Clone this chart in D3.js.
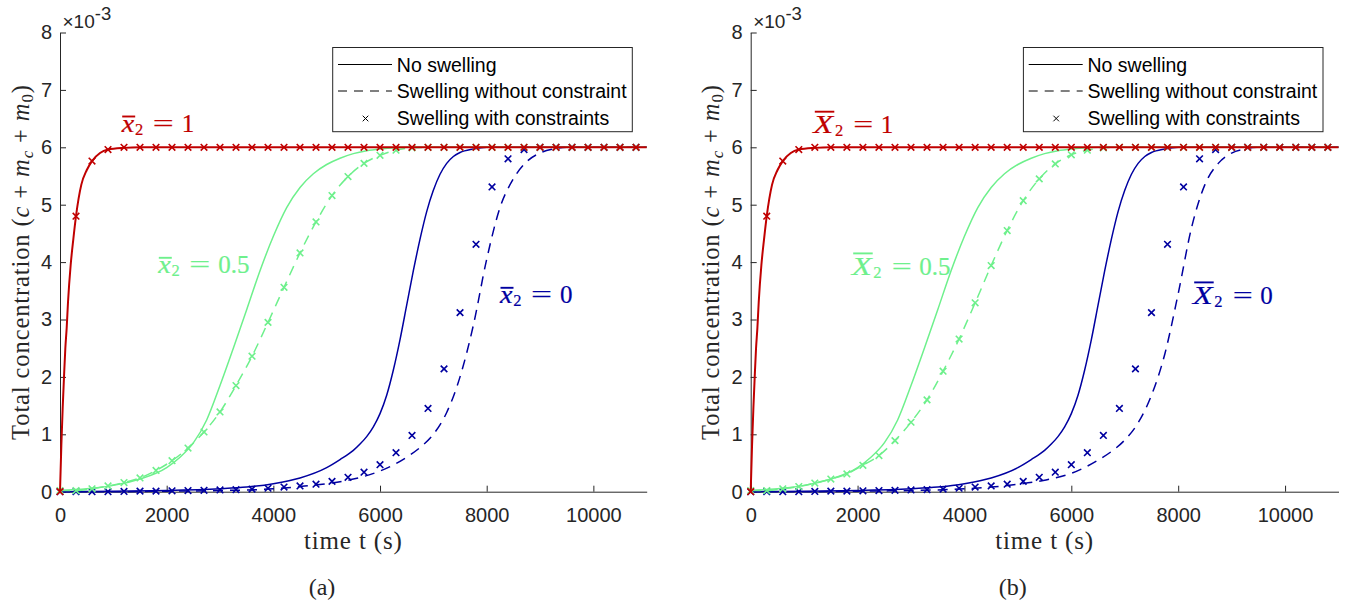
<!DOCTYPE html>
<html><head><meta charset="utf-8">
<script src="https://cdn.jsdelivr.net/npm/d3@7"></script>
<style>body{margin:0;background:#fff} svg{display:block}</style>
</head><body>
<svg id="c" width="1354" height="606"></svg>
<script>
// ---------------- data ----------------
const xTicks = [0, 2000, 4000, 6000, 8000, 10000];
const yTicks = [0, 1, 2, 3, 4, 5, 6, 7, 8];
const markT = [0,300,600,900,1200,1500,1800,2100,2400,2700,3000,3300,3600,3900,4200,4500,4800,5100,5400,5700,6000,6300,6600,6900,7200,7500,7800,8100,8400,8700,9000,9300,9600,9900,10200,10500,10800];

// x2 = 1 (red)
const redT = [0,25,50,75,100,125,150,200,250,300,400,500,600,750,900,1200,1500,11000];
const redC = [0,0.8,1.45,2.0,2.5,2.85,3.3,3.95,4.4,4.8,5.35,5.6,5.76,5.9,5.96,5.99,6.0,6.0];
const redMark = [0,4.8,5.76,5.96,6,6,6,6,6,6,6,6,6,6,6,6,6,6,6,6,6,6,6,6,6,6,6,6,6,6,6,6,6,6,6,6,6];

// x2 = 0.5 (green)
const greenSolidT = [0,500,1000,1500,2000,2250,2500,2750,3000,3250,3500,3750,4000,4250,4500,4750,5000,5250,5500,5750,6000,6500,11000];
const greenSolidC = [0.02,0.05,0.11,0.22,0.42,0.6,0.85,1.25,1.85,2.5,3.17,3.85,4.45,4.95,5.3,5.54,5.7,5.81,5.89,5.94,5.97,6.0,6.0];
const greenMarkA = [0.02,0.02,0.05,0.10,0.16,0.24,0.37,0.54,0.76,1.04,1.39,1.85,2.36,2.95,3.56,4.16,4.70,5.16,5.49,5.72,5.86,5.95,5.99,6,6,6,6,6,6,6,6,6,6,6,6,6,6];
const greenMarkB = [0.02,0.02,0.05,0.09,0.15,0.22,0.31,0.46,0.63,0.89,1.21,1.60,2.10,2.66,3.29,3.94,4.55,5.07,5.45,5.71,5.87,5.95,5.99,6,6,6,6,6,6,6,6,6,6,6,6,6,6];

// x2 = 0 (blue)
const blueSolidT = [0,1000,2000,3000,3500,4000,4500,5000,5250,5500,5625,5750,5875,6000,6125,6250,6375,6500,6625,6750,6875,7000,7125,7250,7375,7500,7750,8000,11000];
const blueSolidC = [0,0.01,0.02,0.05,0.08,0.14,0.24,0.42,0.56,0.72,0.83,0.96,1.13,1.36,1.68,2.12,2.65,3.25,3.85,4.4,4.88,5.25,5.53,5.72,5.84,5.91,5.97,6.0,6.0];
const blueDashT = [0,1000,2000,3000,4000,4500,5000,5500,6000,6500,6750,7000,7250,7500,7750,8000,8250,8500,8750,9000,9250,9500,11000];
const blueDashA = [0,0,0.01,0.02,0.05,0.09,0.14,0.22,0.36,0.6,0.77,1.0,1.38,2.0,2.9,4.05,4.95,5.45,5.75,5.9,5.97,6.0,6.0];
const blueDashB = [0,0,0.01,0.02,0.05,0.08,0.13,0.2,0.32,0.55,0.7,0.9,1.2,1.68,2.4,3.45,4.6,5.35,5.72,5.9,5.97,6.0,6.0];
const blueMark = [0,0,0,0,0.005,0.01,0.01,0.015,0.02,0.025,0.03,0.035,0.045,0.06,0.08,0.10,0.13,0.18,0.25,0.34,0.47,0.68,0.98,1.45,2.14,3.12,4.31,5.31,5.80,5.96,6,6,6,6,6,6,6];

const legendLabels = ["No swelling", "Swelling without constraint", "Swelling with constraints"];
const panelTags = ["(a)", "(b)"];
const varLetters = ["x", "X"];
const levelLabels = ["1", "0.5", "0"];

// ---------------- style / layout ----------------
const SANS = "'Liberation Sans', Arial, Helvetica, sans-serif";
const SERIF = "'Liberation Serif', 'Times New Roman', serif";
const INK = "#262626";
const RED = "#c00000", GREEN = "#6ef08c", BLUE = "#0000a0";
const DASH = "10,7";

const svg = d3.select("#c");
const y = d3.scaleLinear().domain([0, 8]).range([491.7, 32.5]);

const panels = [
  { x0: 60, x1: 646.7, greenMark: greenMarkA, blueDash: blueDashA,
    labels: [[121.7,132],[158.3,273.3],[500,303.3]] },
  { x0: 750.7, x1: 1338.5, greenMark: greenMarkB, blueDash: blueDashB,
    labels: [[813.3,133.3],[851.7,275],[1192.7,304]] }
];

function fitWidth(sel, target) {
  const len = sel.node().getComputedTextLength();
  const n = sel.text().length;
  if (n > 1) sel.attr("letter-spacing", ((target - len) / (n - 1)).toFixed(2));
}

const zip = (T, C) => T.map((t, i) => [t, C[i]]);

panels.forEach((p, pi) => {
  const x = d3.scaleLinear().domain([0, 11000]).range([p.x0, p.x1]);
  const g = svg.append("g");
  const clipId = "clip" + pi;
  svg.append("clipPath").attr("id", clipId).append("rect")
    .attr("x", p.x0 - 6).attr("y", y(8) - 2).attr("width", p.x1 - p.x0 + 8).attr("height", y(0) - y(8) + 8);

  // axes
  const ax = g.append("g").attr("transform", `translate(0,${y(0)})`)
    .call(d3.axisBottom(x).tickValues(xTicks).tickFormat(d3.format("d"))
      .tickSizeInner(-6).tickSizeOuter(0).tickPadding(16));
  const ay = g.append("g").attr("transform", `translate(${p.x0},0)`)
    .call(d3.axisLeft(y).tickValues(yTicks).tickFormat(d3.format("d"))
      .tickSizeInner(-6).tickSizeOuter(0).tickPadding(8));
  [ax, ay].forEach(a => {
    a.selectAll("path").attr("stroke", INK).attr("stroke-width", 1);
    a.selectAll("line").attr("stroke", INK).attr("stroke-width", 1);
    a.selectAll("text").attr("fill", INK).style("font-family", SANS).style("font-size", "20px");
  });

  // multiplier
  const mt = g.append("text").attr("x", p.x0 + 2.5).attr("y", 27.5).attr("fill", INK)
    .style("font-family", SANS).style("font-size", "19px");
  mt.append("tspan").text("\u00d710");
  mt.append("tspan").attr("dy", -8).style("font-size", "18.5px").text("-3");

  // curves
  const line = d3.line().x(d => x(d[0])).y(d => y(d[1])).curve(d3.curveMonotoneX);
  const plot = g.append("g").attr("clip-path", `url(#${clipId})`);
  const drawLine = (data, color, dash, w) => plot.append("path").datum(data)
    .attr("d", line).attr("fill", "none").attr("stroke", color)
    .attr("stroke-width", w).attr("stroke-dasharray", dash || null);
  const drawMarks = (C, color) => plot.append("g").selectAll("path").data(zip(markT, C)).join("path")
    .attr("transform", d => `translate(${x(d[0])},${y(d[1])})`)
    .attr("d", "M-3.3,-3.3L3.3,3.3M-3.3,3.3L3.3,-3.3")
    .attr("stroke", color).attr("stroke-width", 1.6).attr("fill", "none");

  drawLine(zip(blueSolidT, blueSolidC), BLUE, null, 1.5);
  drawLine(zip(blueDashT, p.blueDash), BLUE, DASH, 1.5);
  drawMarks(blueMark, BLUE);
  drawLine(zip(greenSolidT, greenSolidC), GREEN, null, 1.5);
  drawLine(zip(markT, p.greenMark), GREEN, DASH, 1.5);
  drawMarks(p.greenMark, GREEN);
  drawLine(zip(redT, redC), RED, null, 2);
  drawMarks(redMark, RED);

  // legend
  const lg = g.append("g").attr("transform", `translate(${p.x0},0)`);
  lg.append("rect").attr("x", 272.7).attr("y", 47.5).attr("width", 299.6).attr("height", 84.2)
    .attr("fill", "#fff").attr("stroke", INK).attr("stroke-width", 1);
  const rowsY = [71.5, 98, 125];
  lg.append("line").attr("x1", 278).attr("x2", 332).attr("y1", rowsY[0] - 7).attr("y2", rowsY[0] - 7)
    .attr("stroke", "#000").attr("stroke-width", 1);
  lg.append("line").attr("x1", 278).attr("x2", 332).attr("y1", rowsY[1] - 7).attr("y2", rowsY[1] - 7)
    .attr("stroke", "#000").attr("stroke-width", 1).attr("stroke-dasharray", "9,7");
  lg.append("path").attr("transform", `translate(305.5,${rowsY[2] - 6.5})`)
    .attr("d", "M-2.8,-2.8L2.8,2.8M-2.8,2.8L2.8,-2.8").attr("stroke", "#000").attr("stroke-width", 1);
  legendLabels.forEach((s, i) => lg.append("text").attr("x", 336.8).attr("y", rowsY[i])
    .attr("fill", "#000").style("font-family", SANS).style("font-size", "19.5px").text(s));

  // math annotations
  const colors = [RED, GREEN, BLUE];
  const L = varLetters[pi];
  const cap = L === "X";
  p.labels.forEach(([lx, ly], i) => {
    const a = g.append("g").attr("fill", colors[i]).attr("stroke", colors[i]).attr("stroke-width", 0.2)
      .style("font-family", SERIF);
    const lw = cap ? 20 : 12.5;
    a.append("text").attr("x", lx).attr("y", ly).style("font-size", "25px").style("font-style", "italic")
      .attr("textLength", lw).attr("lengthAdjust", "spacingAndGlyphs").text(L);
    a.append("line").attr("x1", lx + (cap ? 1.5 : 0.5)).attr("x2", lx + (cap ? 21 : 13.5))
      .attr("y1", ly - (cap ? 21.6 : 15.5)).attr("y2", ly - (cap ? 21.6 : 15.5))
      .attr("stroke", colors[i]).attr("stroke-width", 1.9);
    a.append("text").attr("x", lx + (cap ? 21.6 : 13.3)).attr("y", ly + 3).style("font-size", "16.5px").text("2");
    a.append("text").attr("x", lx + (cap ? 40 : 31)).attr("y", ly).style("font-size", "25px")
      .attr("textLength", cap ? 20 : 21).attr("lengthAdjust", "spacingAndGlyphs").text("=");
    a.append("text").attr("x", lx + (cap ? 67.5 : 60)).attr("y", ly).style("font-size", "25px").text(levelLabels[i]);
  });

  // axis labels
  const xl = g.append("text").attr("x", (p.x0 + p.x1) / 2).attr("y", 549).attr("text-anchor", "middle")
    .attr("fill", INK).style("font-family", SERIF).style("font-size", "25px").text("time t (s)");
  fitWidth(xl, 98);

  const yl = g.append("text").attr("transform", `translate(${p.x0 - 31.5},262) rotate(-90)`)
    .attr("text-anchor", "middle").attr("fill", INK).style("font-family", SERIF).style("font-size", "24.5px");
  yl.append("tspan").text("Total concentration (");
  yl.append("tspan").style("font-style", "italic").text("c");
  yl.append("tspan").text(" + ");
  yl.append("tspan").style("font-style", "italic").text("m");
  yl.append("tspan").style("font-style", "italic").style("font-size", "17px").attr("dy", 4).text("c");
  yl.append("tspan").attr("dy", -4).text(" + ");
  yl.append("tspan").style("font-style", "italic").text("m");
  yl.append("tspan").style("font-size", "17px").attr("dy", 4).text("0");
  yl.append("tspan").attr("dy", -4).text(")");
  fitWidth(yl, 355);

  g.append("text").attr("x", p.x0 + 262).attr("y", 595).attr("text-anchor", "middle")
    .attr("fill", INK).style("font-family", SERIF).style("font-size", "24px").text(panelTags[pi]);
});
</script>
</body></html>
